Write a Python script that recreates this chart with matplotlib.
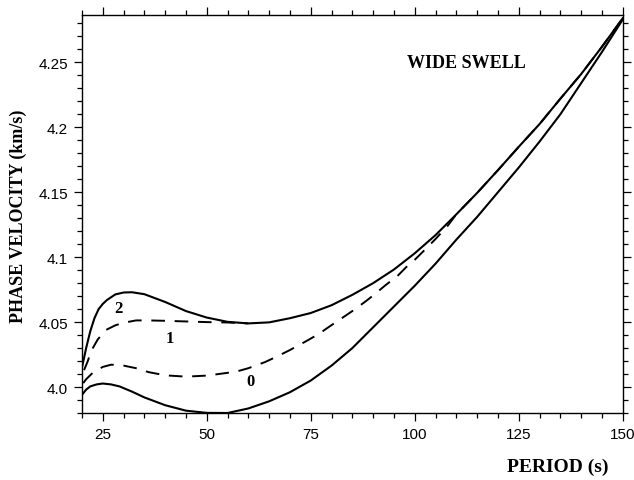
import matplotlib.pyplot as plt
from matplotlib.ticker import FixedLocator, MultipleLocator

# period (s) / phase velocity (km/s)
period_upper = [20, 21, 22, 23, 24, 25, 26, 28, 30, 32, 35, 40, 45, 50, 55, 60,
                65, 70, 75, 80, 85, 90, 95, 100, 105, 110, 115, 120, 125, 130,
                135, 140, 145, 150]
vel_upper = [4.015, 4.030, 4.043, 4.053, 4.060, 4.064, 4.067, 4.0713, 4.0728,
             4.0730, 4.0715, 4.0655, 4.0585, 4.0535, 4.0502, 4.049, 4.0498,
             4.053, 4.057, 4.063, 4.071, 4.080, 4.0905, 4.1030, 4.117, 4.133,
             4.1495, 4.167, 4.185, 4.2025, 4.222, 4.241, 4.262, 4.284]

period_mode1 = [20.5, 21.4, 22.2, 23.8, 25.8, 28, 30, 33, 36, 40, 45, 50, 55, 60]
vel_mode1 = [4.013, 4.020, 4.0277, 4.0367, 4.044, 4.0475, 4.0495, 4.0513,
             4.0513, 4.051, 4.0505, 4.050, 4.0497, 4.049]

period_mode0 = [20.3, 21, 22.6, 25, 27, 30, 33, 36, 40, 45, 50, 54, 57, 60, 64,
                67, 70, 74, 77, 79, 82, 85, 88, 90, 93, 96, 98, 100, 103, 105,
                108, 110, 115, 120, 125, 130, 135, 140, 145, 150]
vel_mode0 = [4.003, 4.006, 4.011, 4.0155, 4.0172, 4.0165, 4.0145, 4.0115,
             4.009, 4.008, 4.0088, 4.0105, 4.0118, 4.0145, 4.0192, 4.0237,
             4.0285, 4.0355, 4.041, 4.0455, 4.052, 4.0585, 4.0655, 4.0705,
             4.0785, 4.086, 4.0925, 4.098, 4.1075, 4.114, 4.1245, 4.133,
             4.1495, 4.167, 4.185, 4.2025, 4.222, 4.241, 4.262, 4.284]

period_lower = [20, 21, 22, 23.5, 25, 27, 29, 32, 35, 40, 45, 50, 55, 60, 65,
                70, 75, 80, 85, 90, 95, 100, 105, 110, 115, 120, 125, 130, 135,
                140, 145, 150]
vel_lower = [3.994, 3.998, 4.0005, 4.002, 4.0027, 4.002, 4.0005, 3.9965,
             3.992, 3.986, 3.9818, 3.9801, 3.980, 3.9835, 3.989, 3.996, 4.005,
             4.0165, 4.030, 4.046, 4.062, 4.078, 4.095, 4.1135, 4.131, 4.150,
             4.169, 4.189, 4.210, 4.234, 4.258, 4.283]

x_ticks = [25, 50, 75, 100, 125, 150]
y_ticks = [4.0, 4.05, 4.1, 4.15, 4.2, 4.25]
y_tick_labels = ["4.0", "4.05", "4.1", "4.15", "4.2", "4.25"]

serif = ["Liberation Serif", "DejaVu Serif"]
sans = ["Liberation Sans", "DejaVu Sans"]

fig = plt.figure(figsize=(6.34, 4.81), dpi=100)
ax = fig.add_axes([0.1293, 0.1393, 0.8529, 0.8274])

dash = (0, (7, 5))
ax.plot(period_upper, vel_upper, color="black", lw=1.5)
ax.plot(period_lower, vel_lower, color="black", lw=1.5)
ax.plot(period_mode1, vel_mode1, color="black", lw=1.4, linestyle=dash)
ax.plot(period_mode0, vel_mode0, color="black", lw=1.4, linestyle=dash)

ax.text(28.7, 4.061, "2", family=serif, weight="bold", fontsize=12,
        ha="center", va="center")
ax.text(41.1, 4.038, "1", family=serif, weight="bold", fontsize=12,
        ha="center", va="center")
ax.text(60.4, 4.0046, "0", family=serif, weight="bold", fontsize=12,
        ha="center", va="center")
ax.text(112.5, 4.25, "WIDE SWELL", family=serif, weight="bold", fontsize=13,
        ha="center", va="center")

ax.set_xlim(20, 150)
ax.set_ylim(3.98, 4.2865)
ax.xaxis.set_major_locator(FixedLocator(x_ticks))
ax.xaxis.set_minor_locator(MultipleLocator(5))
ax.set_yticks(y_ticks)
ax.set_yticklabels(y_tick_labels)
ax.yaxis.set_minor_locator(MultipleLocator(0.01))
ax.tick_params(which="both", direction="out", top=True, right=True,
               color="black", width=0.9)
ax.tick_params(which="major", length=6, labelsize=11, pad=4)
ax.tick_params(which="minor", length=3.5)
for label in ax.get_xticklabels() + ax.get_yticklabels():
    label.set_family(sans)
for spine in ax.spines.values():
    spine.set_linewidth(1.0)

fig.text(0.879, 0.029, "PERIOD (s)", family=serif, weight="bold", fontsize=14,
         ha="center", va="center")
fig.text(0.029, 0.551, "PHASE VELOCITY (km/s)", family=serif, weight="bold",
         fontsize=13, rotation=90, ha="center", va="center")

fig.savefig("out.png", dpi=100)
